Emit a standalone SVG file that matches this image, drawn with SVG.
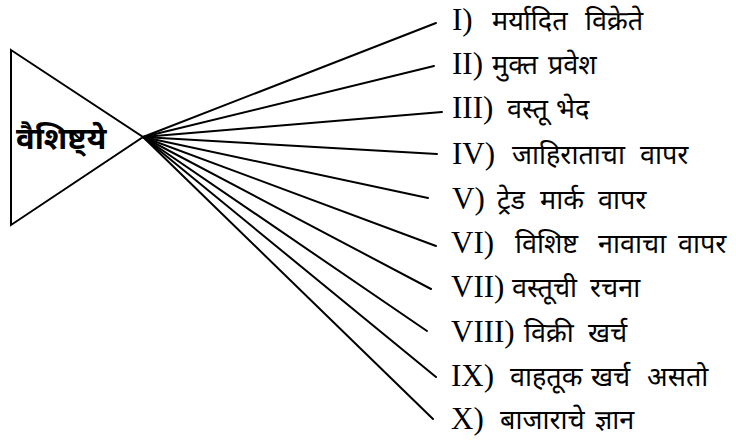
<svg xmlns="http://www.w3.org/2000/svg" width="736" height="442" viewBox="0 0 736 442">
<style>
.edge{stroke:#000;stroke-width:2;fill:none;stroke-linecap:round}
.shape{stroke:#000;stroke-width:2;fill:#fff}
.num{font-family:"Liberation Serif","Times New Roman",serif;font-size:31px;fill:#000}
.dev{font-family:"Noto Sans Devanagari","Noto Serif Devanagari","Lohit Devanagari","Liberation Serif",serif;font-size:27px;fill:#000}
.hub{font-family:"Noto Sans Devanagari","Lohit Devanagari","Liberation Serif",serif;font-size:31px;font-weight:bold;fill:#000}
</style>
<rect width="736" height="442" fill="#fff"/>
<g id="hub">
<polygon class="shape" points="11,50 11,225 143,137"/>
<text class="hub" x="16" y="149">वैशिष्ट्ये</text>
</g>
<g id="connectors">
<line class="edge" x1="143" y1="137" x2="436" y2="23"/>
<line class="edge" x1="143" y1="137" x2="434" y2="66"/>
<line class="edge" x1="143" y1="137" x2="442" y2="112"/>
<line class="edge" x1="143" y1="137" x2="437" y2="154"/>
<line class="edge" x1="143" y1="137" x2="428" y2="198"/>
<line class="edge" x1="143" y1="137" x2="436" y2="246"/>
<line class="edge" x1="143" y1="137" x2="431" y2="289"/>
<line class="edge" x1="143" y1="137" x2="427" y2="331"/>
<line class="edge" x1="143" y1="137" x2="436" y2="377"/>
<line class="edge" x1="143" y1="137" x2="433" y2="419"/>
</g>
<g id="item1"><text class="num" x="452" y="30">I)</text><text class="dev" y="30"><tspan x="492">मर्यादित</tspan> <tspan x="585">विक्रेते</tspan></text></g>
<g id="item2"><text class="num" x="452" y="74">II)</text><text class="dev" y="74"><tspan x="492">मुक्त</tspan> <tspan x="548">प्रवेश</tspan></text></g>
<g id="item3"><text class="num" x="452" y="118">III)</text><text class="dev" y="118"><tspan x="507">वस्तू</tspan> <tspan x="556">भेद</tspan></text></g>
<g id="item4"><text class="num" x="452" y="164">IV)</text><text class="dev" y="164"><tspan x="512">जाहिराताचा</tspan> <tspan x="640">वापर</tspan></text></g>
<g id="item5"><text class="num" x="452" y="209">V)</text><text class="dev" y="209"><tspan x="497">ट्रेड</tspan> <tspan x="540">मार्क</tspan> <tspan x="598">वापर</tspan></text></g>
<g id="item6"><text class="num" x="451" y="253">VI)</text><text class="dev" y="253"><tspan x="515">विशिष्ट</tspan> <tspan x="598">नावाचा</tspan> <tspan x="678">वापर</tspan></text></g>
<g id="item7"><text class="num" x="451" y="297">VII)</text><text class="dev" y="297"><tspan x="512">वस्तूची</tspan> <tspan x="590">रचना</tspan></text></g>
<g id="item8"><text class="num" x="451" y="342">VIII)</text><text class="dev" y="342"><tspan x="524">विक्री</tspan> <tspan x="588">खर्च</tspan></text></g>
<g id="item9"><text class="num" x="451" y="386">IX)</text><text class="dev" y="386"><tspan x="510">वाहतूक</tspan> <tspan x="591">खर्च</tspan> <tspan x="647">असतो</tspan></text></g>
<g id="item10"><text class="num" x="451" y="429">X)</text><text class="dev" y="429"><tspan x="500">बाजाराचे</tspan> <tspan x="595">ज्ञान</tspan></text></g>
</svg>
